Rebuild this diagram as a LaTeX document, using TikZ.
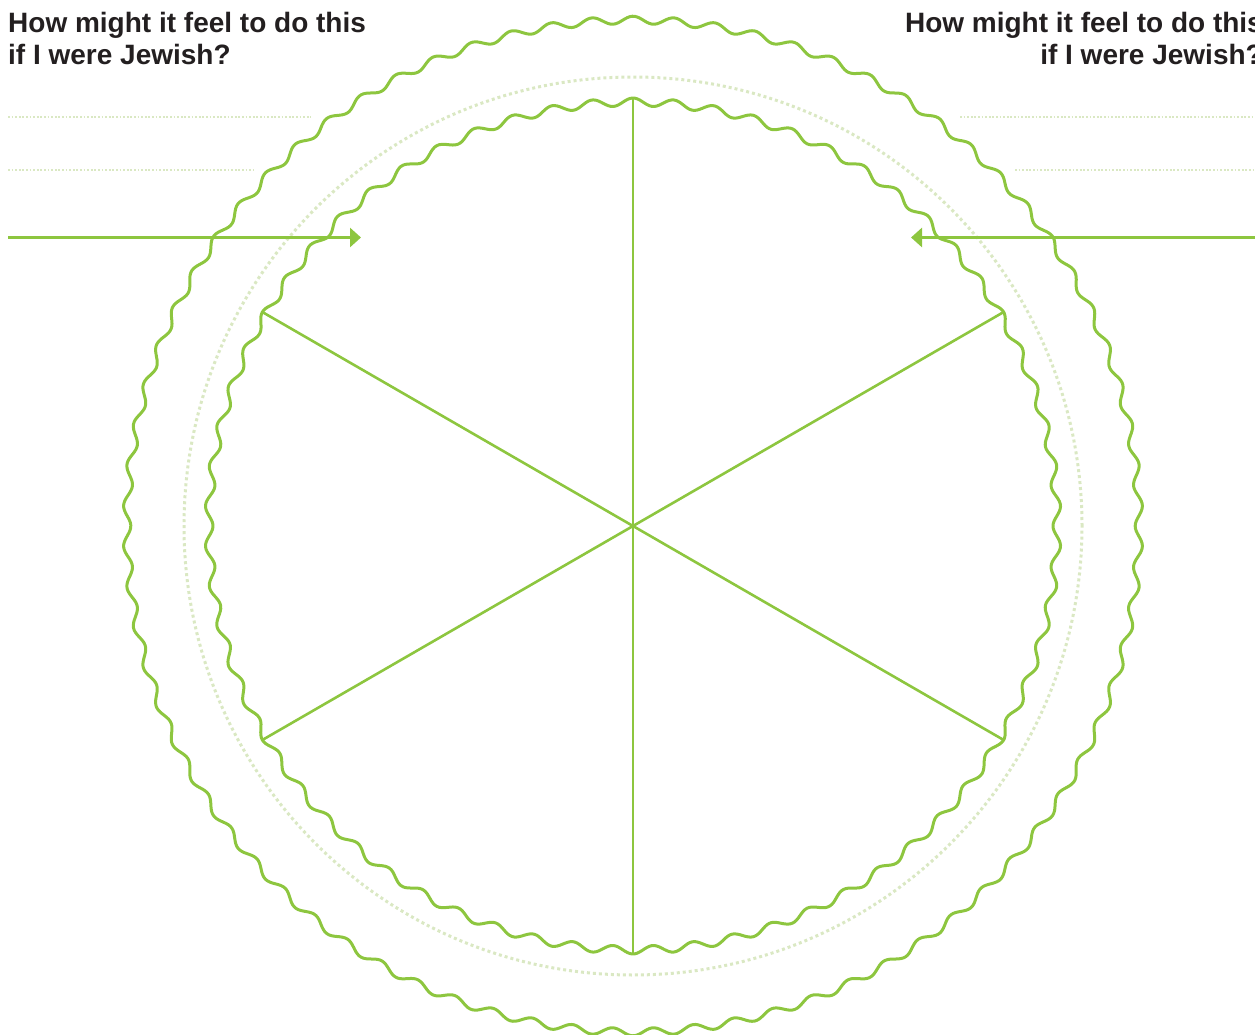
\documentclass[tikz,border=0pt]{standalone}
\usepackage{fontspec}
\setmainfont{Liberation Sans}
\usetikzlibrary{arrows.meta}
\definecolor{lgreen}{HTML}{8DC63F}
\definecolor{pale}{HTML}{DAE8C3}
\definecolor{ink}{HTML}{231F20}
\tikzset{
  wave/.style={draw=lgreen, line width=3pt, line join=round},
  spoke/.style={draw=lgreen, line width=2.6pt},
  pointer/.style={draw=lgreen, line width=2.8pt, -{Triangle[length=11pt,width=19pt]}},
  ruling/.style={draw=pale, line width=1.4pt, dash pattern=on 1.8pt off 1.8pt},
  ring/.style={draw=pale, line width=3pt, dash pattern=on 3pt off 3pt},
  question/.style={inner sep=0pt, text=ink, font=\bfseries\fontsize{28}{31.5}\selectfont}
}
\begin{document}
\begin{tikzpicture}[x=1pt,y=-1pt]
\useasboundingbox (0,0) rectangle (1255,1035);
\clip (0,0) rectangle (1255,1035);
\coordinate (c) at (633,526);
% dotted ring
\draw[ring] (c) circle[radius=449pt];
% wavy circles
\draw[wave] plot[domain=0:360, samples=1300, smooth]
  ({633+(506+3.8*cos(360*mod((\x+270)/360*78,1)))*cos(\x)},
   {526+(506+3.8*cos(360*mod((\x+270)/360*78,1)))*sin(\x)}) -- cycle;
\draw[wave] plot[domain=0:360, samples=1100, smooth]
  ({633+(424+4*cos(360*mod((\x+270)/360*66,1)))*cos(\x)},
   {526+(424+4*cos(360*mod((\x+270)/360*66,1)))*sin(\x)}) -- cycle;
% spokes
\coordinate (top) at (633,98);
\coordinate (bot) at (633,954);
\coordinate (ul) at (262.3,312);
\coordinate (lr) at (1003.7,740);
\coordinate (ur) at (1003.7,312);
\coordinate (ll) at (262.3,740);
\draw[spoke] (top) -- (bot);
\draw[spoke] (ul) -- (lr);
\draw[spoke] (ll) -- (ur);
% rulings
\coordinate (l1a) at (8,117); \coordinate (l1b) at (311,117);
\coordinate (l2a) at (8,170); \coordinate (l2b) at (253,170);
\coordinate (r1a) at (960,117); \coordinate (r1b) at (1255,117);
\coordinate (r2a) at (1015,170); \coordinate (r2b) at (1255,170);
\draw[ruling] (l1a) -- (l1b);
\draw[ruling] (l2a) -- (l2b);
\draw[ruling] (r1a) -- (r1b);
\draw[ruling] (r2a) -- (r2b);
% arrows
\coordinate (la) at (8,237.5); \coordinate (lt) at (361,237.5);
\coordinate (ra) at (1255,237.5); \coordinate (rt) at (911,237.5);
\draw[pointer] (la) -- (lt);
\draw[pointer] (ra) -- (rt);
% texts
\node[question, anchor=north west, align=left] (qleft) at (8,12.5)
  {How might it feel to do this\\if I were Jewish?};
\node[question, anchor=north east, align=right] (qright) at (1263,12.5)
  {How might it feel to do this\\if I were Jewish?};
\end{tikzpicture}
\end{document}
